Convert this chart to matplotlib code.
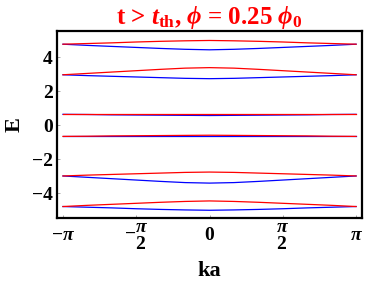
import numpy as np
import matplotlib
matplotlib.use("Agg")
import matplotlib.pyplot as plt

plt.rcParams["font.family"] = ["Liberation Serif", "DejaVu Serif"]
plt.rcParams["font.weight"] = "bold"
plt.rcParams["mathtext.fontset"] = "custom"
plt.rcParams["mathtext.rm"] = "Liberation Serif:bold"
plt.rcParams["mathtext.it"] = "Liberation Serif:italic:bold"
plt.rcParams["mathtext.bf"] = "Liberation Serif:bold"

# ka sample points, in units of pi
ka = np.array([-1, -5/6, -2/3, -1/2, -1/3, -1/6, 0, 1/6, 1/3, 1/2, 2/3, 5/6, 1]) * np.pi

# red bands
red_1 = [4.78, 4.82, 4.86, 4.91, 4.95, 4.98, 5.00, 4.98, 4.95, 4.91, 4.86, 4.82, 4.78]
red_2 = [2.98, 3.06, 3.14, 3.22, 3.30, 3.37, 3.40, 3.37, 3.30, 3.22, 3.14, 3.06, 2.98]
red_3 = [0.65, 0.65, 0.65, 0.65, 0.65, 0.65, 0.65, 0.65, 0.65, 0.65, 0.65, 0.65, 0.65]
red_4 = [-0.65, -0.64, -0.62, -0.61, -0.60, -0.59, -0.58, -0.59, -0.60, -0.61, -0.62, -0.64, -0.65]
red_5 = [-2.98, -2.93, -2.89, -2.85, -2.81, -2.77, -2.75, -2.77, -2.81, -2.85, -2.89, -2.93, -2.98]
red_6 = [-4.78, -4.71, -4.65, -4.59, -4.53, -4.48, -4.45, -4.48, -4.53, -4.59, -4.65, -4.71, -4.78]

# blue bands
blue_1 = [4.78, 4.71, 4.65, 4.59, 4.53, 4.48, 4.45, 4.48, 4.53, 4.59, 4.65, 4.71, 4.78]
blue_2 = [2.98, 2.93, 2.89, 2.85, 2.81, 2.77, 2.75, 2.77, 2.81, 2.85, 2.89, 2.93, 2.98]
blue_3 = [0.65, 0.64, 0.62, 0.61, 0.60, 0.59, 0.58, 0.59, 0.60, 0.61, 0.62, 0.64, 0.65]
blue_4 = [-0.65, -0.65, -0.65, -0.65, -0.65, -0.65, -0.65, -0.65, -0.65, -0.65, -0.65, -0.65, -0.65]
blue_5 = [-2.98, -3.06, -3.14, -3.22, -3.30, -3.37, -3.40, -3.37, -3.30, -3.22, -3.14, -3.06, -2.98]
blue_6 = [-4.78, -4.82, -4.86, -4.91, -4.95, -4.98, -5.00, -4.98, -4.95, -4.91, -4.86, -4.82, -4.78]

xtick_vals = [-np.pi, -np.pi / 2, 0, np.pi / 2, np.pi]
xtick_labels = [r"$-\pi$", r"$-\genfrac{}{}{0}{0}{\pi}{2}$", "0",
                r"$\genfrac{}{}{0}{0}{\pi}{2}$", r"$\pi$"]
ytick_vals = [-4, -2, 0, 2, 4]

fig = plt.figure(figsize=(3.66, 2.83), dpi=100)
ax = fig.add_axes([0.156, 0.230, 0.833, 0.660])

for band in [blue_1, blue_2, blue_3, blue_4, blue_5, blue_6]:
    ax.plot(ka, band, color="#0000ff", lw=0.9)
for band in [red_1, red_2, red_3, red_4, red_5, red_6]:
    ax.plot(ka, band, color="#ff0000", lw=0.9)

pad = 0.02 * 2 * np.pi
ax.set_xlim(-np.pi - pad, np.pi + pad)
ax.set_ylim(-5.45, 5.55)
ax.set_xticks(xtick_vals)
ax.set_xticklabels(xtick_labels)
ax.set_yticks(ytick_vals)
ax.tick_params(direction="in", length=2.5, width=0.6, color="#999999", labelsize=14)
ax.tick_params(axis="x", pad=16)
ax.tick_params(axis="y", pad=3)
for lab in ax.get_xticklabels():
    lab.set_verticalalignment("baseline")
for s in ax.spines.values():
    s.set_linewidth(1.6)

ax.set_xlabel("ka", fontsize=16, fontweight="bold", labelpad=6)
ax.set_ylabel("E", fontsize=16, fontweight="bold", labelpad=5)
ax.set_title(r"t > $t_{\rm th}$, $\phi$ = 0.25 $\phi_0$", color="#ff0000",
             fontsize=18, fontweight="bold", pad=4)

fig.savefig("out.png", dpi=100)
